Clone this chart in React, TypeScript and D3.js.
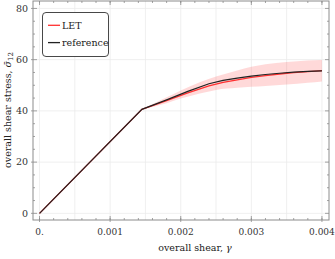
import { useRef, useEffect } from 'react';
import * as d3 from 'd3';

// shear strain values
const gammaRef = [0, 0.00145, 0.0018, 0.0021, 0.0024, 0.0026, 0.0028, 0.003, 0.0032, 0.0034, 0.0036, 0.0038, 0.004];
const stressRef = [0, 40.6, 44.3, 47.6, 50.6, 51.9, 52.8, 53.6, 54.2, 54.7, 55.1, 55.4, 55.6];

const gammaLet = [0, 0.00145, 0.0018, 0.0021, 0.0024, 0.0026, 0.0028, 0.003, 0.0032, 0.0034, 0.0036, 0.0038, 0.004];
const stressLet = [0, 40.6, 44.0, 47.0, 49.8, 51.1, 52.1, 53.1, 53.8, 54.4, 54.9, 55.3, 55.7];

const gammaBand = [0.00145, 0.0018, 0.002, 0.00227, 0.0025, 0.0028, 0.003, 0.0032, 0.0035, 0.0038, 0.004];
const bandUpper = [40.6, 45.3, 48.0, 51.2, 53.4, 55.8, 57.2, 58.2, 59.1, 59.7, 59.9];
const bandLower = [40.6, 43.0, 44.8, 46.8, 48.2, 49.0, 49.4, 49.7, 50.3, 51.0, 51.5];

const xTicks = [0, 0.001, 0.002, 0.003, 0.004];
const xTickLabels = ['0.', '0.001', '0.002', '0.003', '0.004'];
const yTicks = [0, 20, 40, 60, 80];

const legendItems = [
  { label: 'LET', color: '#ff3030' },
  { label: 'reference', color: '#222222' },
];

const W = 335;
const H = 259;
const FONT = 'DejaVu Serif, serif';

export default function App() {
  const svgRef = useRef<SVGSVGElement>(null);

  useEffect(() => {
    if (!svgRef.current) return;
    const svg = d3.select(svgRef.current);
    svg.selectAll('*').remove();

    const left = 33, right = 329, top = 1, bottom = 220;
    const x = d3.scaleLinear().domain([-0.0000925, 0.0041]).range([left, right]);
    const y = d3.scaleLinear().domain([-2.6, 82.9]).range([bottom, top]);

    svg.append('rect').attr('width', W).attr('height', H).attr('fill', '#fff');

    // grid lines
    const grid = svg.append('g').attr('stroke', '#ebebeb').attr('stroke-width', 0.8);
    d3.range(0, 0.00401, 0.0005).forEach((v) => {
      grid.append('line').attr('x1', x(v)).attr('x2', x(v)).attr('y1', top).attr('y2', bottom);
    });
    yTicks.forEach((v) => {
      grid.append('line').attr('x1', left).attr('x2', right).attr('y1', y(v)).attr('y2', y(v));
    });

    // uncertainty band
    const area = d3.area<number>()
      .x((_, i) => x(gammaBand[i]))
      .y0((_, i) => y(bandLower[i]))
      .y1((d) => y(d))
      .curve(d3.curveMonotoneX);
    svg.append('path')
      .attr('d', area(bandUpper) as string)
      .attr('fill', '#ff4040')
      .attr('opacity', 0.2);

    const line = d3.line<[number, number]>()
      .x((d) => x(d[0]))
      .y((d) => y(d[1]));

    svg.append('path')
      .attr('d', line(gammaLet.map((g, i) => [g, stressLet[i]])) as string)
      .attr('fill', 'none')
      .attr('stroke', legendItems[0].color)
      .attr('stroke-width', 1.3);

    svg.append('path')
      .attr('d', line(gammaRef.map((g, i) => [g, stressRef[i]])) as string)
      .attr('fill', 'none')
      .attr('stroke', legendItems[1].color)
      .attr('stroke-width', 1.2);

    // frame
    svg.append('rect')
      .attr('x', left).attr('y', top)
      .attr('width', right - left).attr('height', bottom - top)
      .attr('fill', 'none').attr('stroke', '#8c8c8c').attr('stroke-width', 1);

    const ticks = svg.append('g').attr('stroke', '#8c8c8c').attr('stroke-width', 0.8);
    xTicks.forEach((v) => {
      ticks.append('line').attr('x1', x(v)).attr('x2', x(v)).attr('y1', bottom + 2).attr('y2', bottom - 4);
      ticks.append('line').attr('x1', x(v)).attr('x2', x(v)).attr('y1', top).attr('y2', top + 4);
    });
    d3.range(0, 0.00401, 0.0002).forEach((v) => {
      ticks.append('line').attr('x1', x(v)).attr('x2', x(v)).attr('y1', bottom).attr('y2', bottom - 2);
      ticks.append('line').attr('x1', x(v)).attr('x2', x(v)).attr('y1', top).attr('y2', top + 2);
    });
    d3.range(0, 81, 5).forEach((v) => {
      const major = v % 20 === 0;
      ticks.append('line').attr('x1', major ? left - 2 : left).attr('x2', left + (major ? 4 : 2)).attr('y1', y(v)).attr('y2', y(v));
      ticks.append('line').attr('x1', right).attr('x2', right - (major ? 4 : 2)).attr('y1', y(v)).attr('y2', y(v));
    });

    // tick labels
    xTicks.forEach((v, i) => {
      svg.append('text')
        .attr('x', x(v)).attr('y', 235)
        .attr('text-anchor', 'middle')
        .attr('font-family', FONT).attr('font-size', 9)
        .attr('fill', '#333')
        .text(xTickLabels[i]);
    });
    yTicks.forEach((v) => {
      svg.append('text')
        .attr('x', 28).attr('y', y(v))
        .attr('dy', '0.35em')
        .attr('text-anchor', 'end')
        .attr('font-family', FONT).attr('font-size', 9.5)
        .attr('fill', '#333')
        .text(v);
    });

    // axis labels
    const xl = svg.append('text')
      .attr('x', 195).attr('y', 251)
      .attr('text-anchor', 'middle')
      .attr('font-family', FONT).attr('font-size', 9.5)
      .attr('fill', '#222');
    xl.append('tspan').text('overall shear, ');
    xl.append('tspan').attr('font-style', 'italic').text('γ');

    const yl = svg.append('text')
      .attr('transform', 'translate(11, 110) rotate(-90)')
      .attr('text-anchor', 'middle')
      .attr('font-family', FONT).attr('font-size', 9.5)
      .attr('fill', '#222');
    yl.append('tspan').text('overall shear stress, ');
    yl.append('tspan').attr('font-style', 'italic').text('σ\u0304');
    yl.append('tspan').attr('font-size', 7).attr('dy', 2).text('12');

    // legend
    const lg = svg.append('g');
    lg.append('rect')
      .attr('x', 42.5).attr('y', 12.5).attr('width', 66).attr('height', 44)
      .attr('rx', 3.5)
      .attr('fill', '#fff').attr('stroke', '#333').attr('stroke-width', 0.9);
    legendItems.forEach((item, i) => {
      const ly = 25.3 + i * 17.3;
      lg.append('line')
        .attr('x1', 48).attr('x2', 60).attr('y1', ly).attr('y2', ly)
        .attr('stroke', item.color).attr('stroke-width', 1.3);
      lg.append('text')
        .attr('x', 62).attr('y', ly).attr('dy', '0.35em')
        .attr('font-family', FONT).attr('font-size', 9.5)
        .attr('fill', '#222')
        .text(item.label);
    });
  }, []);

  return (
    <svg
      ref={svgRef}
      width={W}
      height={H}
      style={{ position: 'absolute', left: 0, top: 0 }}
    />
  );
}
